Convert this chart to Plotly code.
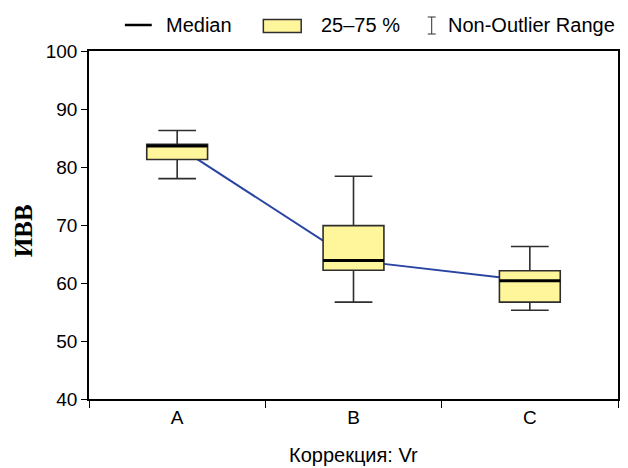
import plotly.graph_objects as go

categories = ["A", "B", "C"]
q1 = [81.3, 62.2, 56.7]
median = [83.6, 63.9, 60.4]
q3 = [83.9, 69.9, 62.1]
lower = [78.0, 56.7, 55.3]
upper = [86.3, 78.4, 66.3]
y_ticks = [40, 50, 60, 70, 80, 90, 100]
legend_labels = ["Median", "25–75 %", "Non-Outlier Range"]
x_title = "Коррекция: Vr"
y_title = "ИВВ"

# page has an 8px body margin; the figure is placed at (8, 8)
OFF = 8
W, H = 628 - OFF, 468 - OFF
L, T = 89 - OFF, 51 - OFF
R = W - (620 - OFF)
B = H - (399 - OFF)
pw = W - L - R
ph = H - T - B


def px2x(px):
    """page pixel x -> paper coordinate"""
    return (px - OFF - L) / pw


def py2y(py):
    """page pixel y -> paper coordinate"""
    return (H - B - (py - OFF)) / ph


FONT = "Liberation Sans, Arial, sans-serif"
BOX_W = 0.345
YELLOW = "#FFF59A"
DARK = "#2E2E2E"

fig = go.Figure()
fig.add_trace(go.Box(
    x=categories, q1=q1, median=median, q3=q3,
    lowerfence=lower, upperfence=upper,
    fillcolor=YELLOW, line=dict(color=DARK, width=1.6),
    whiskerwidth=0.62, width=BOX_W, boxpoints=False,
    showlegend=False, hoverinfo="skip",
))

shapes = []
# connecting line through medians (below the boxes)
for i in range(len(categories) - 1):
    shapes.append(dict(type="line", xref="x", yref="y", layer="below",
                       x0=i, y0=median[i], x1=i + 1, y1=median[i + 1],
                       line=dict(color="#2A44A2", width=2)))
# thick median lines
for i, m in enumerate(median):
    shapes.append(dict(type="line", xref="x", yref="y",
                       x0=i - BOX_W / 2, x1=i + BOX_W / 2, y0=m, y1=m,
                       line=dict(color="black", width=3)))

# manual legend
ly = 25
shapes.append(dict(type="line", xref="paper", yref="paper",
                   x0=px2x(125), x1=px2x(152), y0=py2y(ly), y1=py2y(ly),
                   line=dict(color="black", width=2.5)))
shapes.append(dict(type="rect", xref="paper", yref="paper",
                   x0=px2x(264), x1=px2x(302), y0=py2y(32.5), y1=py2y(19.5),
                   fillcolor=YELLOW, line=dict(color=DARK, width=1.5)))
shapes.append(dict(type="line", xref="paper", yref="paper",
                   x0=px2x(433), x1=px2x(433), y0=py2y(17), y1=py2y(34),
                   line=dict(color=DARK, width=1)))
for yy in (17, 34):
    shapes.append(dict(type="line", xref="paper", yref="paper",
                       x0=px2x(429), x1=px2x(437), y0=py2y(yy), y1=py2y(yy),
                       line=dict(color=DARK, width=1)))

annotations = []
for txt, xp in zip(legend_labels, [164, 320, 447]):
    annotations.append(dict(text=txt, xref="paper", yref="paper",
                            x=px2x(xp), y=py2y(ly), xanchor="left", yanchor="middle",
                            showarrow=False, font=dict(family=FONT, size=20, color="black")))
annotations.append(dict(text=x_title, xref="paper", yref="paper",
                        x=0.5, y=py2y(455), xanchor="center", yanchor="middle",
                        showarrow=False, font=dict(family=FONT, size=20, color="black")))
annotations.append(dict(text="<b>" + y_title + "</b>", xref="paper", yref="paper",
                        x=px2x(24), y=py2y(231), xanchor="center", yanchor="middle",
                        textangle=-90, showarrow=False,
                        font=dict(family="Liberation Serif, Times New Roman, serif", size=25, color="black")))

fig.update_layout(
    width=W, height=H,
    margin=dict(l=L, r=R, t=T, b=B, pad=0),
    paper_bgcolor="white", plot_bgcolor="white",
    showlegend=False,
    shapes=shapes, annotations=annotations,
    font=dict(family=FONT, size=19, color="black"),
    xaxis=dict(type="category", range=[-0.5, 2.5], tickson="boundaries",
               ticks="outside", ticklen=7, tickwidth=1.2, tickcolor="black",
               showline=True, linecolor="black", linewidth=1.5, mirror=True,
               showgrid=False, zeroline=False,
               tickfont=dict(family=FONT, size=19, color="black")),
    yaxis=dict(range=[40, 100], tickvals=y_ticks, ticks="outside", ticklen=6,
               tickwidth=1.2, tickcolor="black",
               showline=True, linecolor="black", linewidth=1.5, mirror=True,
               showgrid=False, zeroline=False,
               tickfont=dict(family=FONT, size=19, color="black")),
)

fig.write_html("out.html")
